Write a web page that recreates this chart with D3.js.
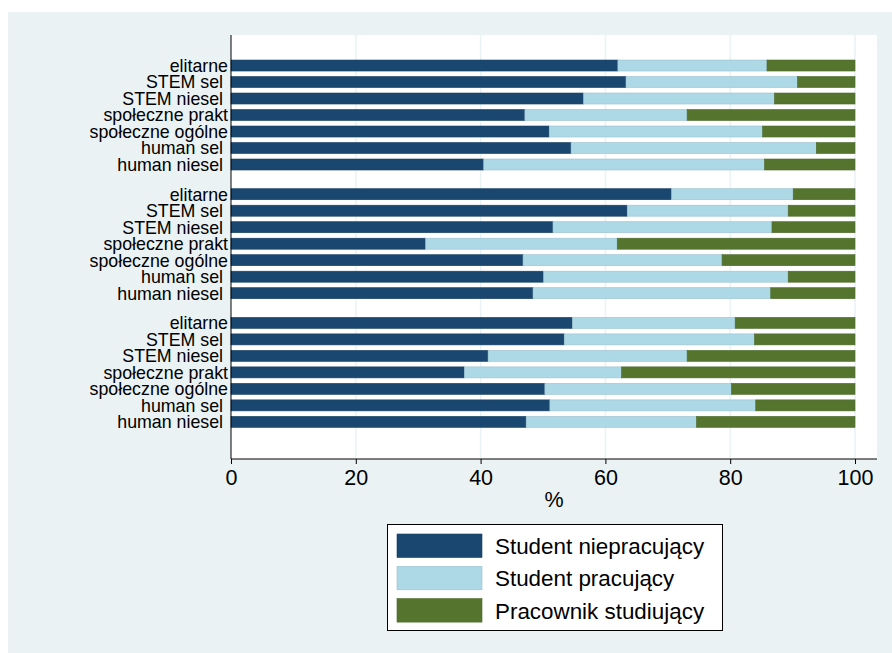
<!DOCTYPE html>
<html>
<head>
<meta charset="utf-8">
<script src="https://cdn.jsdelivr.net/npm/d3@7"></script>
<style>
  body { margin: 0; background: #fff; }
  text { font-family: "Liberation Sans", Arial, sans-serif; white-space: pre; }
</style>
</head>
<body>
<div id="chart"></div>
<script>
const categories = ['elitarne', 'STEM sel ', 'STEM niesel ', 'społeczne prakt', 'społeczne ogólne', 'human sel ', 'human niesel '];
const seriesNames = ['Student niepracujący', 'Student pracujący', 'Pracownik studiujący'];
const colors = ['#1a476f', '#add8e6', '#55752f'];

// shares in % per group (top to bottom), one array per series
const nonWorking = [
    [62.0, 63.3, 56.5, 47.1, 51.0, 54.5, 40.5],
    [70.6, 63.5, 51.6, 31.2, 46.8, 50.1, 48.4],
    [54.7, 53.4, 41.2, 37.4, 50.3, 51.1, 47.3]
];
const working = [
    [23.9, 27.5, 30.6, 26.0, 34.2, 39.3, 45.0],
    [19.5, 25.8, 35.1, 30.7, 31.9, 39.2, 38.1],
    [26.1, 30.5, 31.9, 25.2, 29.9, 33.0, 27.3]
];
const workerStudent = [
    [14.1, 9.2, 12.9, 26.9, 14.8, 6.2, 14.5],
    [9.9, 10.7, 13.3, 38.1, 21.3, 10.7, 13.5],
    [19.2, 16.1, 26.9, 37.4, 19.8, 15.9, 25.4]
];
const xTicks = [0, 20, 40, 60, 80, 100];

const width = 892;
const height = 653;
const plot = {left: 231, right: 877, top: 35, bottom: 459};
const groupGap = 0.8;

const rows = [];
nonWorking.forEach((g, gi) => {
    g.forEach((v, i) => {
        rows.push({
            label: categories[i],
            pos: gi * (categories.length + groupGap) + i,
            values: [v, working[gi][i], workerStudent[gi][i]]
        });
    });
});

const svg = d3.select('#chart').append('svg')
    .attr('width', width)
    .attr('height', height);

svg.append('rect')
    .attr('x', 8).attr('y', 12)
    .attr('width', width - 8).attr('height', height - 12)
    .attr('fill', '#eaf2f3');

svg.append('rect')
    .attr('x', plot.left).attr('y', plot.top)
    .attr('width', plot.right - plot.left).attr('height', plot.bottom - plot.top)
    .attr('fill', '#fff');

const x = d3.scaleLinear()
    .domain([0, 100])
    .range([plot.left, 855]);

const y = d3.scaleLinear()
    .domain([-1.85, 23.85])
    .range([plot.top, plot.bottom]);

const barH = 11;

// grid lines
svg.append('g')
    .selectAll('line')
    .data(xTicks.slice(1))
    .enter()
    .append('line')
    .attr('x1', d => x(d)).attr('x2', d => x(d))
    .attr('y1', plot.top).attr('y2', plot.bottom)
    .attr('stroke', '#eaf2f3')
    .attr('stroke-width', 1.5);

const stack = d3.stack().keys([0, 1, 2]).value((d, k) => d.values[k]);
const layers = stack(rows);

svg.append('g')
    .selectAll('g')
    .data(layers)
    .enter()
    .append('g')
    .attr('fill', (d, i) => colors[i])
    .attr('stroke', (d, i) => d3.color(colors[i]).darker(0.3))
    .attr('stroke-width', 0.6)
    .selectAll('rect')
    .data(d => d)
    .enter()
    .append('rect')
    .attr('x', d => x(d[0]))
    .attr('width', d => x(d[1]) - x(d[0]))
    .attr('y', d => y(d.data.pos) - barH / 2)
    .attr('height', barH);

// category labels
svg.append('g')
    .selectAll('text')
    .data(rows)
    .enter()
    .append('text')
    .attr('x', 228)
    .attr('y', d => y(d.pos))
    .attr('dy', '0.36em')
    .attr('text-anchor', 'end')
    .attr('font-size', 17.8)
    .attr('fill', '#000')
    .text(d => d.label);

// axes
const xAxis = d3.axisBottom(x).tickValues(xTicks).tickSize(5).tickPadding(6);
const gx = svg.append('g')
    .attr('transform', `translate(0, ${plot.bottom})`)
    .call(xAxis);
gx.select('.domain').remove();
gx.append('line')
    .attr('x1', plot.left).attr('x2', plot.right)
    .attr('stroke', '#000');
gx.selectAll('.tick line').attr('stroke', '#000');
gx.selectAll('.tick text')
    .attr('font-size', 21.5)
    .attr('font-family', '"Liberation Sans", Arial, sans-serif')
    .attr('fill', '#000');

svg.append('line')
    .attr('x1', plot.left).attr('x2', plot.left)
    .attr('y1', plot.top).attr('y2', plot.bottom)
    .attr('stroke', '#000');

svg.append('text')
    .attr('x', (plot.left + plot.right) / 2)
    .attr('y', 507)
    .attr('text-anchor', 'middle')
    .attr('font-size', 21.5)
    .text('%');

// legend
const legend = svg.append('g');
legend.append('rect')
    .attr('x', 387.5).attr('y', 524.5)
    .attr('width', 335).attr('height', 106)
    .attr('fill', '#fff')
    .attr('stroke', '#000');

const item = legend.selectAll('g.item')
    .data(seriesNames)
    .enter()
    .append('g')
    .attr('transform', (d, i) => `translate(397, ${534 + i * 32.3})`);

item.append('rect')
    .attr('width', 85).attr('height', 23.5)
    .attr('fill', (d, i) => colors[i])
    .attr('stroke', (d, i) => d3.color(colors[i]).darker(0.3))
    .attr('stroke-width', 0.6);

item.append('text')
    .attr('x', 98)
    .attr('y', 12)
    .attr('dy', '0.36em')
    .attr('font-size', 22.4)
    .text(d => d);
</script>
</body>
</html>
